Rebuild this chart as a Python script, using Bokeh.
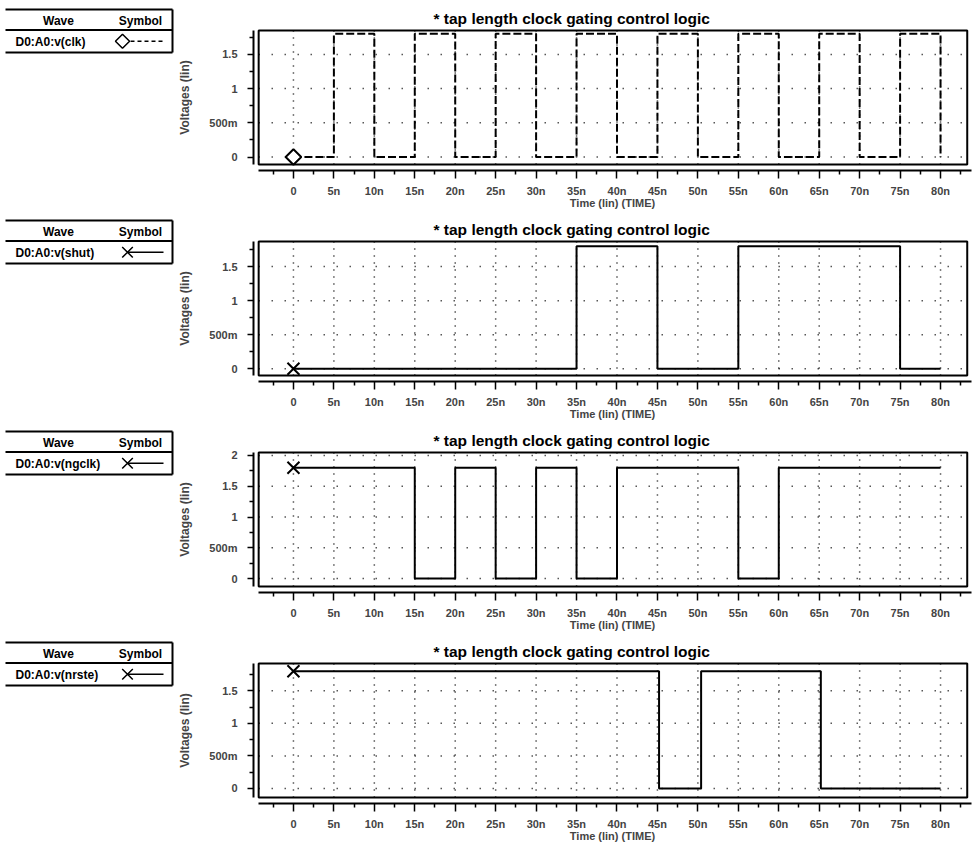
from bokeh.plotting import figure
from bokeh.layouts import column, row
from bokeh.models import Range1d, FixedTicker, BoxAnnotation
from bokeh.core.properties import value
from bokeh.embed import file_html
from bokeh.resources import INLINE

# ---------------- data ----------------
TITLE = "* tap length clock gating control logic"
X_LABEL = "Time (lin) (TIME)"
Y_LABEL = "Voltages (lin)"
LEGEND_HEAD = ["Wave", "Symbol"]

signal_names = ["D0:A0:v(clk)", "D0:A0:v(shut)", "D0:A0:v(ngclk)", "D0:A0:v(nrste)"]

# transition times (ns) and the level held after each time (V)
clk_time = [0, 5, 10, 15, 20, 25, 30, 35, 40, 45, 50, 55, 60, 65, 70, 75, 80]
clk_volt = [0, 1.8, 0, 1.8, 0, 1.8, 0, 1.8, 0, 1.8, 0, 1.8, 0, 1.8, 0, 1.8, 0]

shut_time = [0, 35, 45, 55, 75, 80]
shut_volt = [0, 1.8, 0, 1.8, 0, 0]

ngclk_time = [0, 15, 20, 25, 30, 35, 40, 55, 60, 80]
ngclk_volt = [1.8, 0, 1.8, 0, 1.8, 0, 1.8, 0, 1.8, 1.8]

nrste_time = [0, 45.2, 50.4, 65.2, 80]
nrste_volt = [1.8, 0, 1.8, 0, 0]

x_major = [0, 5, 10, 15, 20, 25, 30, 35, 40, 45, 50, 55, 60, 65, 70, 75, 80]
x_labels = ["0", "5n", "10n", "15n", "20n", "25n", "30n", "35n", "40n",
            "45n", "50n", "55n", "60n", "65n", "70n", "75n", "80n"]
x_minor = [-2.5, 2.5, 7.5, 12.5, 17.5, 22.5, 27.5, 32.5, 37.5, 42.5, 47.5,
           52.5, 57.5, 62.5, 67.5, 72.5, 77.5, 82.5]

y_major_a = [0, 0.5, 1, 1.5]
y_labels_a = ["0", "500m", "1", "1.5"]
y_major_b = [0, 0.5, 1, 1.5, 2]
y_labels_b = ["0", "500m", "1", "1.5", "2"]
y_minor = [0.25, 0.75, 1.25, 1.75]

# ---------------- layout ----------------
FONT = "Liberation Sans"
FIG_H = 211
LEG_W = 175
MAIN_W = 797
B_LEFT, B_RIGHT, B_TOP, B_BOTTOM = 77, 1, 24, 39
FRAME_H = FIG_H - B_TOP - B_BOTTOM          # 148
GAP = 6                                      # px between frame edge and drawn box
BOX_PX = FRAME_H - 2 * GAP                   # 136
PX_PER_NS = 8.1
X_START = -40 / PX_PER_NS
X_END = X_START + (MAIN_W - B_LEFT - B_RIGHT) / PX_PER_NS
BOX_L, BOX_R = -4.3, 83.3

panels = [
    dict(name=signal_names[0], t=clk_time, v=clk_volt, dash="8 3", marker="diamond",
         ymaj=y_major_a, ylab=y_labels_a, ybox=(-0.11, 1.85)),
    dict(name=signal_names[1], t=shut_time, v=shut_volt, dash="solid", marker="x",
         ymaj=y_major_a, ylab=y_labels_a, ybox=(-0.10, 1.87)),
    dict(name=signal_names[2], t=ngclk_time, v=ngclk_volt, dash="solid", marker="x",
         ymaj=y_major_b, ylab=y_labels_b, ybox=(-0.13, 2.05)),
    dict(name=signal_names[3], t=nrste_time, v=nrste_volt, dash="solid", marker="x",
         ymaj=y_major_a, ylab=y_labels_a, ybox=(-0.14, 1.92)),
]


def legend_fig(pd):
    lg = figure(width=LEG_W, height=FIG_H, x_range=Range1d(0, LEG_W), y_range=Range1d(FIG_H, 0),
                output_backend="svg", toolbar_location=None, min_border=0,
                x_axis_type=None, y_axis_type=None, outline_line_color=None,
                frame_align=False)
    lg.grid.visible = False
    top, sep, bot, left, right = 9, 29.5, 52, 5, 172
    lg.segment(x0=[left, left, left, right], y0=[top, sep, bot, top],
               x1=[right, right, right, right], y1=[top, sep, bot, bot],
               line_color="black", line_width=2)
    lg.text(x=[58, 140], y=[(top + sep) / 2 + 1] * 2, text=LEGEND_HEAD, text_align="center",
            text_baseline="middle", text_font=value(FONT), text_font_style="bold",
            text_font_size="12px", text_color="black")
    lg.text(x=[15], y=[(sep + bot) / 2 + 1], text=[pd["name"]], text_align="left",
            text_baseline="middle", text_font=value(FONT), text_font_style="bold",
            text_font_size="12px", text_color="black")
    ym = (sep + bot) / 2
    if pd["marker"] == "diamond":
        lg.line(x=[130, 162], y=[ym, ym], line_color="black", line_width=1.5, line_dash="4 3")
        lg.scatter(x=[122], y=[ym], marker="square", angle=0.785398, size=10,
                   fill_color="white", line_color="black", line_width=1.5)
    else:
        lg.line(x=[127, 163], y=[ym, ym], line_color="black", line_width=1.5)
        lg.scatter(x=[127], y=[ym], marker="x", size=15, line_color="black", line_width=1.5)
    return lg


def main_fig(pd):
    y0, y1 = pd["ybox"]
    ppv = BOX_PX / (y1 - y0)
    pad = GAP / ppv
    p = figure(width=MAIN_W, height=FIG_H, output_backend="svg", toolbar_location=None,
               x_range=Range1d(X_START, X_END), y_range=Range1d(y0 - pad, y1 + pad),
               min_border_left=B_LEFT, min_border_right=B_RIGHT,
               min_border_top=B_TOP, min_border_bottom=B_BOTTOM,
               outline_line_color=None, background_fill_color="white",
               frame_align=False)
    p.grid.visible = False

    # title
    p.title.text = TITLE
    p.title.align = "left"
    p.title.offset = 180
    p.title.standoff = -4
    p.title.text_font = FONT
    p.title.text_font_style = "bold"
    p.title.text_font_size = "15.5px"
    p.title.text_color = "black"

    # x axis
    xa = p.xaxis[0]
    xa.ticker = FixedTicker(ticks=x_major, minor_ticks=x_minor)
    xa.major_label_overrides = {k: s for k, s in zip(x_major, x_labels)}
    xa.bounds = (BOX_L, X_END)
    xa.axis_line_width = 2
    xa.major_tick_in, xa.major_tick_out = 0, 8
    xa.minor_tick_in, xa.minor_tick_out = 0, 4
    xa.major_tick_line_width = 1.5
    xa.minor_tick_line_width = 1.5
    xa.major_label_standoff = 6
    xa.major_label_text_font = FONT
    xa.major_label_text_font_style = "bold"
    xa.major_label_text_font_size = "11px"
    xa.axis_label = X_LABEL
    xa.axis_label_standoff = -3
    xa.axis_label_text_font = FONT
    xa.axis_label_text_font_style = "bold"
    xa.axis_label_text_font_size = "11px"

    # y axis
    ya = p.yaxis[0]
    ya.ticker = FixedTicker(ticks=pd["ymaj"], minor_ticks=y_minor)
    ya.major_label_overrides = {k: s for k, s in zip(pd["ymaj"], pd["ylab"])}
    ya.bounds = (y0, y1)
    ya.axis_line_width = 2
    ya.major_tick_in, ya.major_tick_out = 0, 6
    ya.minor_tick_in, ya.minor_tick_out = 0, 4
    ya.major_tick_line_width = 1.5
    ya.minor_tick_line_width = 1.5
    ya.major_label_standoff = 10
    ya.major_label_text_font = FONT
    ya.major_label_text_font_style = "bold"
    ya.major_label_text_font_size = "11px"
    ya.axis_label = Y_LABEL
    ya.axis_label_standoff = 14
    ya.axis_label_text_font = FONT
    ya.axis_label_text_font_style = "bold"
    ya.axis_label_text_font_size = "12px"

    # dotted grid inside the box
    n = len(x_major)
    p.segment(x0=x_major, y0=[y0] * n, x1=x_major, y1=[y1] * n,
              line_color="black", line_width=1.5, line_dash="1 6")
    m = len(pd["ymaj"])
    p.segment(x0=[BOX_L] * m, y0=pd["ymaj"], x1=[BOX_R] * m, y1=pd["ymaj"],
              line_color="black", line_width=1.5, line_dash="1 12")

    # frame box
    p.add_layout(BoxAnnotation(left=BOX_L, right=BOX_R, bottom=y0, top=y1,
                               fill_alpha=0, line_color="black", line_width=2, line_alpha=1))

    # waveform
    p.step(x=pd["t"], y=pd["v"], mode="after", line_color="black", line_width=2,
           line_dash=pd["dash"])
    if pd["marker"] == "diamond":
        p.scatter(x=pd["t"][:1], y=pd["v"][:1], marker="square", angle=0.785398, size=11,
                  fill_color="white", line_color="black", line_width=2)
    else:
        p.scatter(x=pd["t"][:1], y=pd["v"][:1], marker="x", size=17,
                  line_color="black", line_width=2)
    return p


rows = [row(legend_fig(pd), main_fig(pd), spacing=0) for pd in panels]
layout = column(*rows, spacing=0)

open("out.html", "w").write(file_html(layout, INLINE))
